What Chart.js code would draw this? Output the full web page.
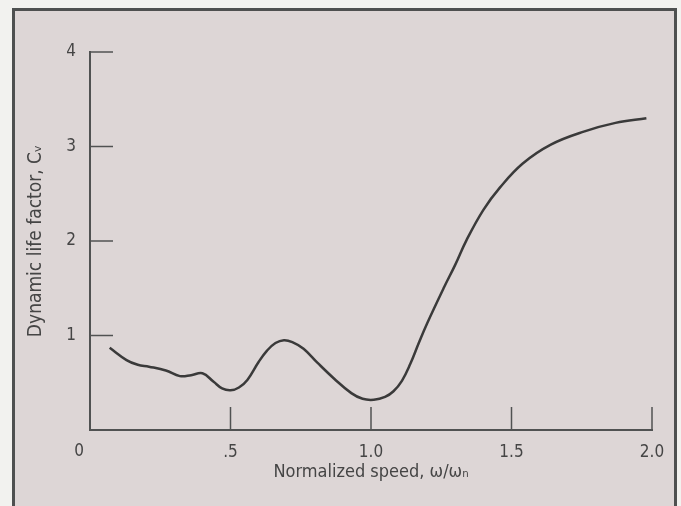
<!DOCTYPE html>
<html>
<head>
<meta charset="utf-8">
<script src="https://cdn.jsdelivr.net/npm/chart.js@4"></script>
<style>
  html, body { margin: 0; padding: 0; background: #f2f2ef; overflow: hidden; }
  #marco {
    position: absolute; left: 12px; top: 8px; width: 659px; height: 520px;
    border: 3px solid #4e5050; background: #ddd6d6;
  }
  #grafico { position: absolute; left: 0; top: 0; }
</style>
</head>
<body>
<div id="marco"></div>
<canvas id="grafico" width="681" height="506"></canvas>
<script>
// Valores (velocidad normalizada vs factor de vida)
const velocidad = [0.07, 0.13, 0.17, 0.21, 0.27, 0.32, 0.36, 0.40, 0.44, 0.47, 0.50, 0.53, 0.56, 0.60, 0.63, 0.66, 0.69, 0.72, 0.76, 0.81,
    0.87, 0.93, 0.97, 1.01, 1.05, 1.08, 1.11, 1.14, 1.17, 1.20, 1.26, 1.30, 1.34, 1.40, 1.46, 1.54, 1.64, 1.76, 1.87, 1.98];
const factorVida = [0.87, 0.74, 0.69, 0.67, 0.63, 0.57, 0.58, 0.60, 0.51, 0.44, 0.42, 0.45, 0.53, 0.72, 0.84, 0.92, 0.95, 0.93, 0.86, 0.71,
    0.54, 0.39, 0.33, 0.32, 0.35, 0.41, 0.52, 0.70, 0.92, 1.13, 1.51, 1.75, 2.01, 2.33, 2.57, 2.82, 3.02, 3.16, 3.25, 3.30];

// Marcas de los ejes
const ticksX = [0.5, 1.0, 1.5, 2.0];
const etiquetasX = ['.5', '1.0', '1.5', '2.0'];
const ticksY = [1, 2, 3, 4];
const etiquetasY = ['1', '2', '3', '4'];
const etiquetaOrigen = '0';

const fuente = "'Liberation Sans Narrow', 'DejaVu Sans Condensed', 'Liberation Sans', sans-serif";
const colorTexto = '#454545';
const colorEje = '#505252';

// Plugin para dibujar las marcas hacia adentro y el "0" del origen
const marcasInternas = {
    id: 'marcasInternas',
    afterDraw(chart) {
        const ctx = chart.ctx;
        const x = chart.scales.x;
        const y = chart.scales.y;
        const largo = 23;
        ctx.save();
        ctx.strokeStyle = colorEje;
        ctx.lineWidth = 1.5;
        ticksX.forEach(v => {
            const px = x.getPixelForValue(v);
            ctx.beginPath();
            ctx.moveTo(px, y.bottom);
            ctx.lineTo(px, y.bottom - largo);
            ctx.stroke();
        });
        ticksY.forEach(v => {
            const py = y.getPixelForValue(v);
            ctx.beginPath();
            ctx.moveTo(x.left, py);
            ctx.lineTo(x.left + largo, py);
            ctx.stroke();
        });
        // el cero compartido va en la columna de Y y la fila de X
        ctx.fillStyle = colorTexto;
        ctx.font = '17px ' + fuente;
        ctx.textAlign = 'right';
        ctx.textBaseline = 'middle';
        ctx.fillText(etiquetaOrigen, x.left - 6, x.top + 22);
        ctx.restore();
    }
};

const ctx = document.getElementById('grafico').getContext('2d');
new Chart(ctx, {
    type: 'line',
    data: {
        datasets: [{
            data: velocidad.map((v, i) => ({ x: v, y: factorVida[i] })),
            borderColor: '#3a3a3a',
            borderWidth: 2.5,
            pointRadius: 0,
            fill: false,
            tension: 0.4
        }]
    },
    options: {
        responsive: false,
        animation: false,
        layout: { padding: { top: 52, right: 29, left: 0, bottom: 0 } },
        plugins: {
            legend: { display: false },
            tooltip: { enabled: false }
        },
        scales: {
            x: {
                type: 'linear',
                min: 0,
                max: 2,
                afterBuildTicks: scale => { scale.ticks = ticksX.map(v => ({ value: v })); },
                afterFit: scale => { scale.height = 76; },
                grid: { display: false },
                border: { display: true, color: colorEje, width: 2 },
                ticks: {
                    padding: 4,
                    color: colorTexto,
                    font: { family: fuente, size: 17 },
                    callback: (v) => etiquetasX[ticksX.indexOf(v)]
                },
                title: {
                    display: true,
                    text: 'Normalized speed, ω/ωₙ',
                    color: colorTexto,
                    font: { family: fuente, size: 18 },
                    padding: { top: 0, bottom: 23 }
                }
            },
            y: {
                min: 0,
                max: 4,
                afterBuildTicks: scale => { scale.ticks = ticksY.map(v => ({ value: v })); },
                afterFit: scale => { scale.width = 90; },
                grid: { display: false },
                border: { display: true, color: colorEje, width: 2 },
                ticks: {
                    padding: 6,
                    color: colorTexto,
                    font: { family: fuente, size: 17 },
                    callback: (v) => etiquetasY[ticksY.indexOf(v)]
                },
                title: {
                    display: true,
                    text: 'Dynamic life factor, Cᵥ',
                    color: colorTexto,
                    font: { family: fuente, size: 19 },
                    padding: { top: 25, bottom: 0 }
                }
            }
        }
    },
    plugins: [marcasInternas]
});
</script>
</body>
</html>
